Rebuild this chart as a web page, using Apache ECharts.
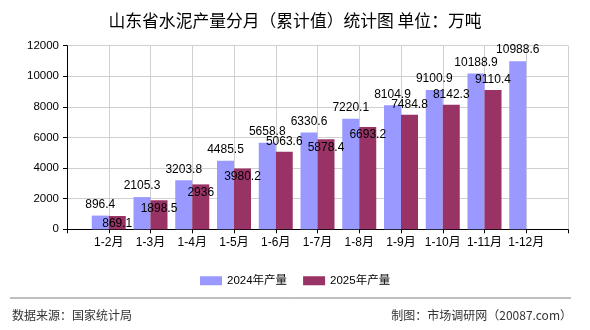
<!DOCTYPE html>
<html>
<head>
<meta charset="utf-8">
<script src="https://cdn.jsdelivr.net/npm/echarts@6/dist/echarts.min.js"></script>
<style>html,body{margin:0;padding:0;background:#fff;}#c{width:590px;height:330px;}</style>
</head>
<body>
<div id="c"></div>
<script>
const categories = ['1-2月','1-3月','1-4月','1-5月','1-6月','1-7月','1-8月','1-9月','1-10月','1-11月','1-12月'];
const values2024 = [896.4, 2105.3, 3203.8, 4485.5, 5658.8, 6330.6, 7220.1, 8104.9, 9100.9, 10188.9, 10988.6];
const values2025 = [869.1, 1898.5, 2936, 3980.2, 5063.6, 5878.4, 6693.2, 7484.8, 8142.3, 9110.4, null];
const seriesNames = ['2024年产量', '2025年产量'];
const yTicks = [0, 2000, 4000, 6000, 8000, 10000, 12000];

// label placement of 2025 values (which ones sit above the bar)
const above2025 = [4, 7, 8, 9];

const axisCats = [''].concat(categories, ['']);
const d2024 = [null].concat(values2024, [null]);
const d2025 = [null].concat(values2025.map((v, i) => v == null ? null : {
  value: v,
  label: above2025.indexOf(i) >= 0 ? {position: 'top', distance: 4} : {position: 'insideTop', distance: 2}
}), [null]);

const FONT = '"Liberation Sans", "Noto Sans CJK SC", sans-serif';
const chart = echarts.init(document.getElementById('c'), null, {renderer: 'canvas'});
chart.setOption({
  backgroundColor: '#ffffff',
  animation: false,
  textStyle: {fontFamily: FONT},
  title: {
    text: '山东省水泥产量分月（累计值）统计图 单位：万吨',
    left: 'center', top: 7,
    textStyle: {fontSize: 16.8, fontWeight: 'normal', color: '#000', fontFamily: '"Noto Sans CJK SC", sans-serif'}
  },
  legend: {
    left: 195, top: 270,
    itemWidth: 22, itemHeight: 9, itemGap: 16,
    icon: 'rect',
    textStyle: {fontSize: 11.5, color: '#000', fontFamily: FONT},
    data: seriesNames
  },
  grid: {left: 67, right: 22, top: 45.7, bottom: 100.7, containLabel: false},
  xAxis: {
    type: 'category',
    data: axisCats,
    boundaryGap: false,
    axisLine: {lineStyle: {color: '#000', width: 1}},
    axisTick: {show: true, length: 4, lineStyle: {color: '#000'}},
    axisLabel: {color: '#000', fontSize: 12, margin: 7, interval: 0, fontFamily: FONT},
    splitLine: {show: true, lineStyle: {color: '#d0d0d0', width: 1}}
  },
  yAxis: {
    type: 'value',
    min: yTicks[0], max: yTicks[yTicks.length - 1], interval: 2000,
    axisLine: {show: true, lineStyle: {color: '#000', width: 1}},
    axisTick: {show: true, length: 4, lineStyle: {color: '#000'}},
    axisLabel: {color: '#000', fontSize: 11.5, margin: 8, fontFamily: FONT, formatter: v => String(v)},
    splitLine: {show: true, lineStyle: {color: '#d0d0d0', width: 1}}
  },
  series: [
    {
      name: seriesNames[0], type: 'bar', data: d2024,
      barWidth: 17, barGap: '0%',
      itemStyle: {color: '#9999ff'},
      label: {show: true, position: 'top', distance: 5, color: '#000', fontSize: 12, fontFamily: FONT}
    },
    {
      name: seriesNames[1], type: 'bar', data: d2025,
      barWidth: 17, barGap: '0%',
      itemStyle: {color: '#993366'},
      label: {show: true, position: 'insideTop', distance: 2, color: '#000', fontSize: 12, fontFamily: FONT}
    }
  ],
  graphic: [
    {type: 'line', shape: {x1: 10, y1: 298, x2: 571, y2: 298}, style: {stroke: '#808080', lineWidth: 1}},
    {type: 'text', left: 12, top: 309, style: {text: '数据来源：国家统计局', fontSize: 12, fill: '#333', fontFamily: '"Noto Sans CJK SC", sans-serif'}},
    {type: 'text', right: 18, top: 309, style: {text: '制图：市场调研网（20087.com）', fontSize: 12, fill: '#333', fontFamily: '"Noto Sans CJK SC", sans-serif'}}
  ]
});
</script>
</body>
</html>
